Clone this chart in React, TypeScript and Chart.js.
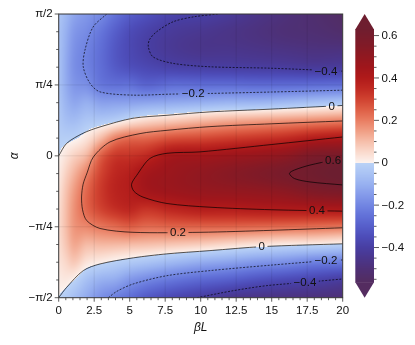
import React, { useEffect, useRef } from 'react';
import { Chart, registerables } from 'chart.js';

Chart.register(...registerables);

const HALF_PI = Math.PI / 2;
const FONT = "'Liberation Sans', Arial, Helvetica, sans-serif";
const TEXT_COLOR = '#111';

// ---- axes ----
const X_TICKS = [0, 2.5, 5, 7.5, 10, 12.5, 15, 17.5, 20];
const X_TICK_LABELS = ['0', '2.5', '5', '7.5', '10', '12.5', '15', '17.5', '20'];
const Y_TICKS_UNITS = [-1, -0.5, 0, 0.5, 1]; // α in units of π/2
const Y_TICK_LABELS = ['−π/2', '−π/4', '0', 'π/4', 'π/2'];
const X_MINOR_STEP = 0.5;
const Y_MINOR_STEP = Math.PI / 16;

// ---- field samples ----
const BETA_L = [0, 0.5, 1, 2, 3, 4, 5, 6, 8, 10, 12, 14, 16, 18, 20];
const ALPHA_UNITS = [1, 0.875, 0.75, 0.625, 0.5, 0.375, 0.25, 0.125, 0, -0.125, -0.25, -0.375, -0.5, -0.625, -0.75, -0.875, -1];
// one column per BETA_L entry, values along ALPHA_UNITS (top to bottom)
const FIELD_COLUMNS = [
  [-0.04, -0.05, -0.05, -0.05, -0.05, -0.04, -0.03, -0.015, 0.0, 0.015, 0.03, 0.04, 0.045, 0.04, 0.03, 0.015, 0.0],
  [-0.08, -0.1, -0.11, -0.115, -0.11, -0.09, -0.06, -0.015, 0.03, 0.065, 0.09, 0.1, 0.1, 0.085, 0.055, 0.02, -0.025],
  [-0.12, -0.15, -0.165, -0.17, -0.155, -0.12, -0.07, -0.01, 0.06, 0.11, 0.145, 0.16, 0.155, 0.13, 0.08, 0.005, -0.06],
  [-0.16, -0.19, -0.21, -0.21, -0.18, -0.105, -0.041, 0.031, 0.117, 0.2, 0.24, 0.24, 0.185, 0.105, 0.029, -0.06, -0.12],
  [-0.19, -0.24, -0.26, -0.26, -0.235, -0.138, -0.037, 0.107, 0.25, 0.3, 0.32, 0.3, 0.21, 0.11, 0.01, -0.1, -0.18],
  [-0.25, -0.3, -0.32, -0.31, -0.25, -0.137, -0.016, 0.195, 0.32, 0.36, 0.37, 0.34, 0.23, 0.108, -0.01, -0.116, -0.22],
  [-0.3, -0.35, -0.36, -0.34, -0.25, -0.135, 0.02, 0.23, 0.33, 0.385, 0.39, 0.36, 0.25, 0.104, -0.03, -0.16, -0.26],
  [-0.33, -0.38, -0.39, -0.36, -0.28, -0.129, 0.046, 0.234, 0.35, 0.43, 0.43, 0.334, 0.232, 0.099, -0.046, -0.19, -0.31],
  [-0.38, -0.42, -0.43, -0.385, -0.259, -0.116, 0.076, 0.273, 0.43, 0.47, 0.46, 0.365, 0.239, 0.086, -0.08, -0.237, -0.37],
  [-0.39, -0.44, -0.45, -0.395, -0.262, -0.104, 0.105, 0.287, 0.44, 0.5, 0.48, 0.39, 0.242, 0.072, -0.112, -0.272, -0.41],
  [-0.42, -0.46, -0.45, -0.4, -0.261, -0.09, 0.128, 0.308, 0.46, 0.53, 0.49, 0.39, 0.24, 0.05, -0.134, -0.298, -0.45],
  [-0.46, -0.48, -0.46, -0.405, -0.267, -0.087, 0.144, 0.327, 0.48, 0.56, 0.5, 0.4, 0.234, 0.031, -0.162, -0.333, -0.47],
  [-0.49, -0.5, -0.47, -0.41, -0.265, -0.073, 0.16, 0.35, 0.51, 0.595, 0.52, 0.405, 0.229, 0.014, -0.18, -0.359, -0.48],
  [-0.52, -0.51, -0.48, -0.42, -0.26, -0.055, 0.176, 0.39, 0.575, 0.63, 0.56, 0.41, 0.222, 0.009, -0.213, -0.38, -0.49],
  [-0.55, -0.53, -0.48, -0.41, -0.255, -0.037, 0.193, 0.41, 0.585, 0.665, 0.58, 0.416, 0.212, -0.009, -0.224, -0.41, -0.5],
];

// ---- contour lines (βL, α in units of π/2) ----
const C_M04_UPPER = [[11.2, 1.0], [9.5, 0.98], [8.05, 0.945], [6.9, 0.875], [6.4, 0.82], [6.31, 0.77], [6.64, 0.698], [8.05, 0.652], [10.65, 0.628], [14.88, 0.618], [20, 0.597]];
const C_M02_UPPER = [[3.38, 1.0], [2.42, 0.908], [1.85, 0.746], [1.73, 0.628], [2.2, 0.512], [2.91, 0.451], [5.23, 0.428], [7.84, 0.435], [10.65, 0.44], [15, 0.45], [20, 0.463]];
const C_0_UPPER = [[0, 0], [0.56, 0.088], [1.71, 0.159], [2.91, 0.204], [5.23, 0.265], [7.63, 0.286], [10.65, 0.31], [14.88, 0.329], [20, 0.355]];
const C_02 = [[20, 0.246], [15, 0.226], [10.65, 0.206], [7.63, 0.18], [5.73, 0.157], [3.61, 0.098], [2.44, -0.008], [2.0, -0.12], [1.72, -0.2], [1.61, -0.29], [1.68, -0.38], [1.97, -0.456], [2.91, -0.512], [5.23, -0.539], [9.95, -0.539], [15, -0.525], [20, -0.507]];
const C_04 = [[20, 0.133], [15, 0.08], [9.95, 0.028], [7.63, 0.018], [6.43, -0.018], [5.49, -0.138], [5.13, -0.2], [5.3, -0.25], [5.94, -0.291], [7.63, -0.336], [10.65, -0.362], [15, -0.38], [20, -0.39]];
const C_06 = [[20, -0.025], [19.3, -0.032], [17.7, -0.065], [16.6, -0.1], [16.25, -0.124], [16.6, -0.16], [17.7, -0.184], [20, -0.205]];
const C_0_LOWER = [[0, -1], [0.56, -0.927], [1.73, -0.809], [2.91, -0.762], [5.25, -0.719], [7.61, -0.691], [10.65, -0.668], [14.3, -0.64], [20, -0.62]];
const C_M02_LOWER = [[3.49, -1], [4.1, -0.955], [5.25, -0.903], [7.61, -0.845], [10.65, -0.809], [15, -0.77], [18.87, -0.739], [20, -0.734]];
const C_M04_LOWER = [[9.74, -1], [12.27, -0.951], [14.65, -0.915], [17.35, -0.892], [20, -0.868]];
const CONTOUR_LINES = [C_M04_UPPER, C_M02_UPPER, C_0_UPPER, C_02, C_04, C_06, C_0_LOWER, C_M02_LOWER, C_M04_LOWER];
const CONTOUR_LEVELS = [-0.4, -0.2, 0, 0.2, 0.4, 0.6, 0, -0.2, -0.4];

// ---- contour labels ----
const LABEL_TEXT = ['−0.2', '−0.4', '0', '0.6', '0.4', '0.2', '0', '−0.2', '−0.4'];
const LABEL_X = [9.47, 18.82, 19.23, 19.32, 18.19, 8.4, 14.3, 18.82, 17.34];
const LABEL_ALPHA = [0.441, 0.599, 0.35, -0.035, -0.385, -0.539, -0.64, -0.735, -0.89];

// ---- colorbar ----
const CB_MIN = -0.566;
const CB_MAX = 0.631;
const CB_TICKS = [-0.4, -0.2, 0, 0.2, 0.4, 0.6];
const CB_TICK_LABELS = ['−0.4', '−0.2', '0', '0.2', '0.4', '0.6'];
const CB_MINOR_STEP = 0.05;

// ---- colormap stops: |value|, r, g, b ----
const POS_STOPS = [
  [0, 252, 242, 238], [0.05, 250, 218, 205], [0.1, 246, 190, 170], [0.15, 240, 158, 132],
  [0.2, 233, 125, 98], [0.25, 222, 95, 70], [0.3, 208, 66, 48], [0.35, 192, 42, 34],
  [0.4, 176, 26, 26], [0.45, 160, 22, 27], [0.5, 145, 24, 32], [0.55, 130, 26, 38],
  [0.6, 118, 28, 44], [0.65, 108, 30, 48],
];
const NEG_STOPS = [
  [0, 186, 210, 246], [0.05, 170, 195, 244], [0.1, 152, 177, 240], [0.15, 133, 155, 234],
  [0.2, 114, 134, 226], [0.25, 98, 113, 216], [0.3, 86, 94, 202], [0.35, 77, 76, 184],
  [0.4, 72, 62, 162], [0.45, 74, 54, 140], [0.5, 78, 48, 118], [0.55, 82, 45, 100],
  [0.6, 85, 44, 92],
];

function colorFor(v: number): number[] {
  const stops = v >= 0 ? POS_STOPS : NEG_STOPS;
  const a = Math.abs(v);
  if (a <= stops[0][0]) return stops[0].slice(1);
  for (let k = 0; k < stops.length - 1; k++) {
    const s0 = stops[k], s1 = stops[k + 1];
    if (a <= s1[0]) {
      const t = (a - s0[0]) / (s1[0] - s0[0]);
      return [s0[1] + (s1[1] - s0[1]) * t, s0[2] + (s1[2] - s0[2]) * t, s0[3] + (s1[3] - s0[3]) * t];
    }
  }
  return stops[stops.length - 1].slice(1);
}

function rgb(c: number[]) {
  return `rgb(${Math.round(c[0])},${Math.round(c[1])},${Math.round(c[2])})`;
}

// smooth (cubic Hermite) rendering of the sampled grid
function hermiteSlopes(xa: number[], fa: number[]): number[] {
  const n = xa.length;
  const m: number[] = [];
  for (let i = 0; i < n; i++) {
    if (i === 0) m.push((fa[1] - fa[0]) / (xa[1] - xa[0]));
    else if (i === n - 1) m.push((fa[n - 1] - fa[n - 2]) / (xa[n - 1] - xa[n - 2]));
    else {
      const h0 = xa[i] - xa[i - 1], h1 = xa[i + 1] - xa[i];
      const d0 = (fa[i] - fa[i - 1]) / h0, d1 = (fa[i + 1] - fa[i]) / h1;
      m.push((h1 * d0 + h0 * d1) / (h0 + h1));
    }
  }
  return m;
}

function hermiteEval(xa: number[], fa: number[], ma: number[], x: number): number {
  const n = xa.length;
  const asc = xa[n - 1] > xa[0];
  let i = 0;
  while (i < n - 2 && (asc ? x > xa[i + 1] : x < xa[i + 1])) i++;
  const h = xa[i + 1] - xa[i];
  let t = (x - xa[i]) / h;
  t = Math.max(0, Math.min(1, t));
  const t2 = t * t, t3 = t2 * t;
  return (2 * t3 - 3 * t2 + 1) * fa[i] + (t3 - 2 * t2 + t) * h * ma[i] + (-2 * t3 + 3 * t2) * fa[i + 1] + (t3 - t2) * h * ma[i + 1];
}

const COLUMN_SLOPES = FIELD_COLUMNS.map((col) => hermiteSlopes(ALPHA_UNITS, col));

const PLOT_LEFT = 58.7;
const PLOT_RIGHT_PAD = 72.3;
const PLOT_TOP = 14;
const X_AXIS_HEIGHT = 47.3;
const CB_GAP = 12.6;
const CB_WIDTH = 18.7;
const CB_EXT = 15;

function labelFont() {
  return `11.5px ${FONT}`;
}

const heatPlugin = {
  id: 'heatmapContours',
  beforeDatasetsDraw(chart: any) {
    const { ctx, chartArea: a, scales } = chart;
    const xs = scales.x, ys = scales.y;
    const x0 = Math.floor(a.left), x1 = Math.ceil(a.right);
    const y0 = Math.floor(a.top), y1 = Math.ceil(a.bottom);
    const w = x1 - x0, h = y1 - y0;
    const off = document.createElement('canvas');
    off.width = w; off.height = h;
    const octx = off.getContext('2d')!;
    const img = octx.createImageData(w, h);
    const colX: number[] = [];
    for (let i = 0; i < w; i++) colX.push(xs.getValueForPixel(x0 + i + 0.5));
    for (let jj = 0; jj < h; jj++) {
      const u = ys.getValueForPixel(y0 + jj + 0.5) / HALF_PI;
      const rowVals = FIELD_COLUMNS.map((col, c) => hermiteEval(ALPHA_UNITS, col, COLUMN_SLOPES[c], u));
      const rowSlopes = hermiteSlopes(BETA_L, rowVals);
      for (let i = 0; i < w; i++) {
        const c = colorFor(hermiteEval(BETA_L, rowVals, rowSlopes, colX[i]));
        const p = (jj * w + i) * 4;
        img.data[p] = c[0]; img.data[p + 1] = c[1]; img.data[p + 2] = c[2]; img.data[p + 3] = 255;
      }
    }
    octx.putImageData(img, 0, 0);
    ctx.save();
    ctx.beginPath();
    ctx.rect(a.left, a.top, a.width, a.height);
    ctx.clip();
    ctx.drawImage(off, x0, y0);
    // faint grid lines over the field
    ctx.strokeStyle = 'rgba(0,0,0,0.1)';
    ctx.lineWidth = 0.8;
    X_TICKS.forEach((v) => {
      const px = xs.getPixelForValue(v);
      ctx.beginPath(); ctx.moveTo(px, a.top); ctx.lineTo(px, a.bottom); ctx.stroke();
    });
    Y_TICKS_UNITS.forEach((v) => {
      const py = ys.getPixelForValue(v * HALF_PI);
      ctx.beginPath(); ctx.moveTo(a.left, py); ctx.lineTo(a.right, py); ctx.stroke();
    });
    ctx.restore();

    // clip out label boxes so contour lines are broken under labels
    ctx.save();
    ctx.font = labelFont();
    ctx.beginPath();
    ctx.rect(0, 0, chart.width, chart.height);
    LABEL_TEXT.forEach((t, k) => {
      const px = xs.getPixelForValue(LABEL_X[k]);
      const py = ys.getPixelForValue(LABEL_ALPHA[k] * HALF_PI);
      const tw = ctx.measureText(t).width;
      ctx.rect(px - tw / 2 - 2.5, py - 5, tw + 5, 10);
    });
    ctx.clip('evenodd');
  },
  afterDatasetsDraw(chart: any) {
    const { ctx, scales } = chart;
    ctx.restore();
    ctx.save();
    ctx.font = labelFont();
    ctx.fillStyle = TEXT_COLOR;
    ctx.textAlign = 'center';
    ctx.textBaseline = 'middle';
    LABEL_TEXT.forEach((t, k) => {
      const px = scales.x.getPixelForValue(LABEL_X[k]);
      const py = scales.y.getPixelForValue(LABEL_ALPHA[k] * HALF_PI);
      ctx.fillText(t, px, py + 0.5);
    });
    ctx.restore();
  },
  afterDraw(chart: any) {
    const { ctx, chartArea: a, scales } = chart;
    const xs = scales.x, ys = scales.y;
    ctx.save();
    // frame
    ctx.strokeStyle = '#3a3a3a';
    ctx.lineWidth = 1;
    ctx.strokeRect(a.left, a.top, a.width, a.height);
    // ticks
    ctx.strokeStyle = '#333';
    ctx.lineWidth = 0.8;
    const nx = Math.round((xs.max - xs.min) / X_MINOR_STEP);
    for (let k = 0; k <= nx; k++) {
      const v = xs.min + k * X_MINOR_STEP;
      const major = X_TICKS.some((t) => Math.abs(t - v) < 1e-9);
      const px = xs.getPixelForValue(v);
      ctx.beginPath(); ctx.moveTo(px, a.bottom); ctx.lineTo(px, a.bottom + (major ? 4 : 2.5)); ctx.stroke();
    }
    const ny = Math.round((ys.max - ys.min) / Y_MINOR_STEP);
    for (let k = 0; k <= ny; k++) {
      const v = ys.min + k * Y_MINOR_STEP;
      const major = Y_TICKS_UNITS.some((t) => Math.abs(t * HALF_PI - v) < 1e-9);
      const py = ys.getPixelForValue(v);
      ctx.beginPath(); ctx.moveTo(a.left, py); ctx.lineTo(a.left - (major ? 4 : 2.5), py); ctx.stroke();
    }

    // colorbar
    const cbL = a.right + CB_GAP;
    const cbR = cbL + CB_WIDTH;
    const rTop = a.top + CB_EXT;
    const rBot = a.bottom - CB_EXT;
    const valToPix = (v: number) => rTop + ((CB_MAX - v) / (CB_MAX - CB_MIN)) * (rBot - rTop);
    for (let py = Math.floor(rTop); py < Math.ceil(rBot); py++) {
      const yc = Math.max(rTop, Math.min(rBot, py + 0.5));
      const v = CB_MAX - ((yc - rTop) / (rBot - rTop)) * (CB_MAX - CB_MIN);
      ctx.fillStyle = rgb(colorFor(v));
      const yTop = Math.max(py, rTop);
      const yBot = Math.min(py + 1, rBot);
      ctx.fillRect(cbL, yTop, CB_WIDTH, yBot - yTop);
    }
    ctx.fillStyle = rgb(colorFor(CB_MAX + 0.01));
    ctx.beginPath();
    ctx.moveTo(cbL, rTop + 0.5); ctx.lineTo((cbL + cbR) / 2, a.top); ctx.lineTo(cbR, rTop + 0.5); ctx.closePath(); ctx.fill();
    ctx.fillStyle = rgb(colorFor(CB_MIN - 0.01));
    ctx.beginPath();
    ctx.moveTo(cbL, rBot - 0.5); ctx.lineTo((cbL + cbR) / 2, a.bottom); ctx.lineTo(cbR, rBot - 0.5); ctx.closePath(); ctx.fill();

    ctx.strokeStyle = '#333';
    ctx.lineWidth = 0.8;
    const kMin = Math.ceil(CB_MIN / CB_MINOR_STEP - 1e-9);
    const kMax = Math.floor(CB_MAX / CB_MINOR_STEP + 1e-9);
    for (let k = kMin; k <= kMax; k++) {
      const v = k * CB_MINOR_STEP;
      const major = CB_TICKS.some((t) => Math.abs(t - v) < 1e-9);
      const py = valToPix(v);
      ctx.beginPath(); ctx.moveTo(cbR, py); ctx.lineTo(cbR + (major ? 5 : 2.5), py); ctx.stroke();
    }
    ctx.fillStyle = TEXT_COLOR;
    ctx.font = labelFont();
    ctx.textAlign = 'left';
    ctx.textBaseline = 'middle';
    CB_TICKS.forEach((v, k) => {
      ctx.fillText(CB_TICK_LABELS[k], cbR + 7.5, valToPix(v) + 0.5);
    });
    ctx.restore();
  },
};

export default function App() {
  const ref = useRef<HTMLCanvasElement>(null);
  useEffect(() => {
    const canvas = ref.current;
    if (!canvas) return;
    const datasets = CONTOUR_LINES.map((line, k) => ({
      data: line.map(([bx, u]) => ({ x: bx, y: u * HALF_PI })),
      showLine: true,
      pointRadius: 0,
      borderColor: 'rgba(0,0,0,0.85)',
      borderWidth: 0.8,
      borderDash: CONTOUR_LEVELS[k] < 0 ? [2, 1.5] : [],
      tension: 0.3,
      fill: false,
    }));
    const chart = new Chart(canvas, {
      type: 'scatter',
      data: { datasets },
      options: {
        responsive: false,
        animation: false,
        events: [],
        layout: { padding: { left: 0, right: PLOT_RIGHT_PAD, top: PLOT_TOP, bottom: 0 } },
        plugins: { legend: { display: false }, tooltip: { enabled: false } },
        scales: {
          x: {
            type: 'linear',
            min: 0,
            max: 20,
            grid: { display: false, drawTicks: false },
            border: { display: false },
            afterBuildTicks: (s: any) => { s.ticks = X_TICKS.map((v) => ({ value: v })); },
            afterFit: (s: any) => { s.height = X_AXIS_HEIGHT; },
            ticks: {
              autoSkip: false,
              maxRotation: 0,
              padding: 6,
              color: TEXT_COLOR,
              font: { family: FONT, size: 11.5 },
              callback: (_v: any, i: number) => X_TICK_LABELS[i],
            },
            title: {
              display: true,
              text: 'βL',
              color: TEXT_COLOR,
              font: { family: FONT, size: 12, style: 'italic' },
              padding: { top: 0, bottom: 10 },
            },
          },
          y: {
            type: 'linear',
            min: -HALF_PI,
            max: HALF_PI,
            grid: { display: false, drawTicks: false },
            border: { display: false },
            afterBuildTicks: (s: any) => { s.ticks = Y_TICKS_UNITS.map((v) => ({ value: v * HALF_PI })); },
            afterFit: (s: any) => { s.width = PLOT_LEFT; },
            ticks: {
              autoSkip: false,
              padding: 6,
              color: TEXT_COLOR,
              font: { family: FONT, size: 11.5 },
              callback: (_v: any, i: number) => Y_TICK_LABELS[i],
            },
            title: {
              display: true,
              text: 'α',
              color: TEXT_COLOR,
              font: { family: FONT, size: 12, style: 'italic' },
              padding: { top: 7, bottom: 0 },
            },
          },
        },
      } as any,
      plugins: [heatPlugin],
    });
    return () => chart.destroy();
  }, []);
  return (
    <div style={{ position: 'absolute', left: 0, top: 0, width: 415, height: 345 }}>
      <canvas ref={ref} width={415} height={345} style={{ display: 'block', width: 415, height: 345 }} />
    </div>
  );
}
